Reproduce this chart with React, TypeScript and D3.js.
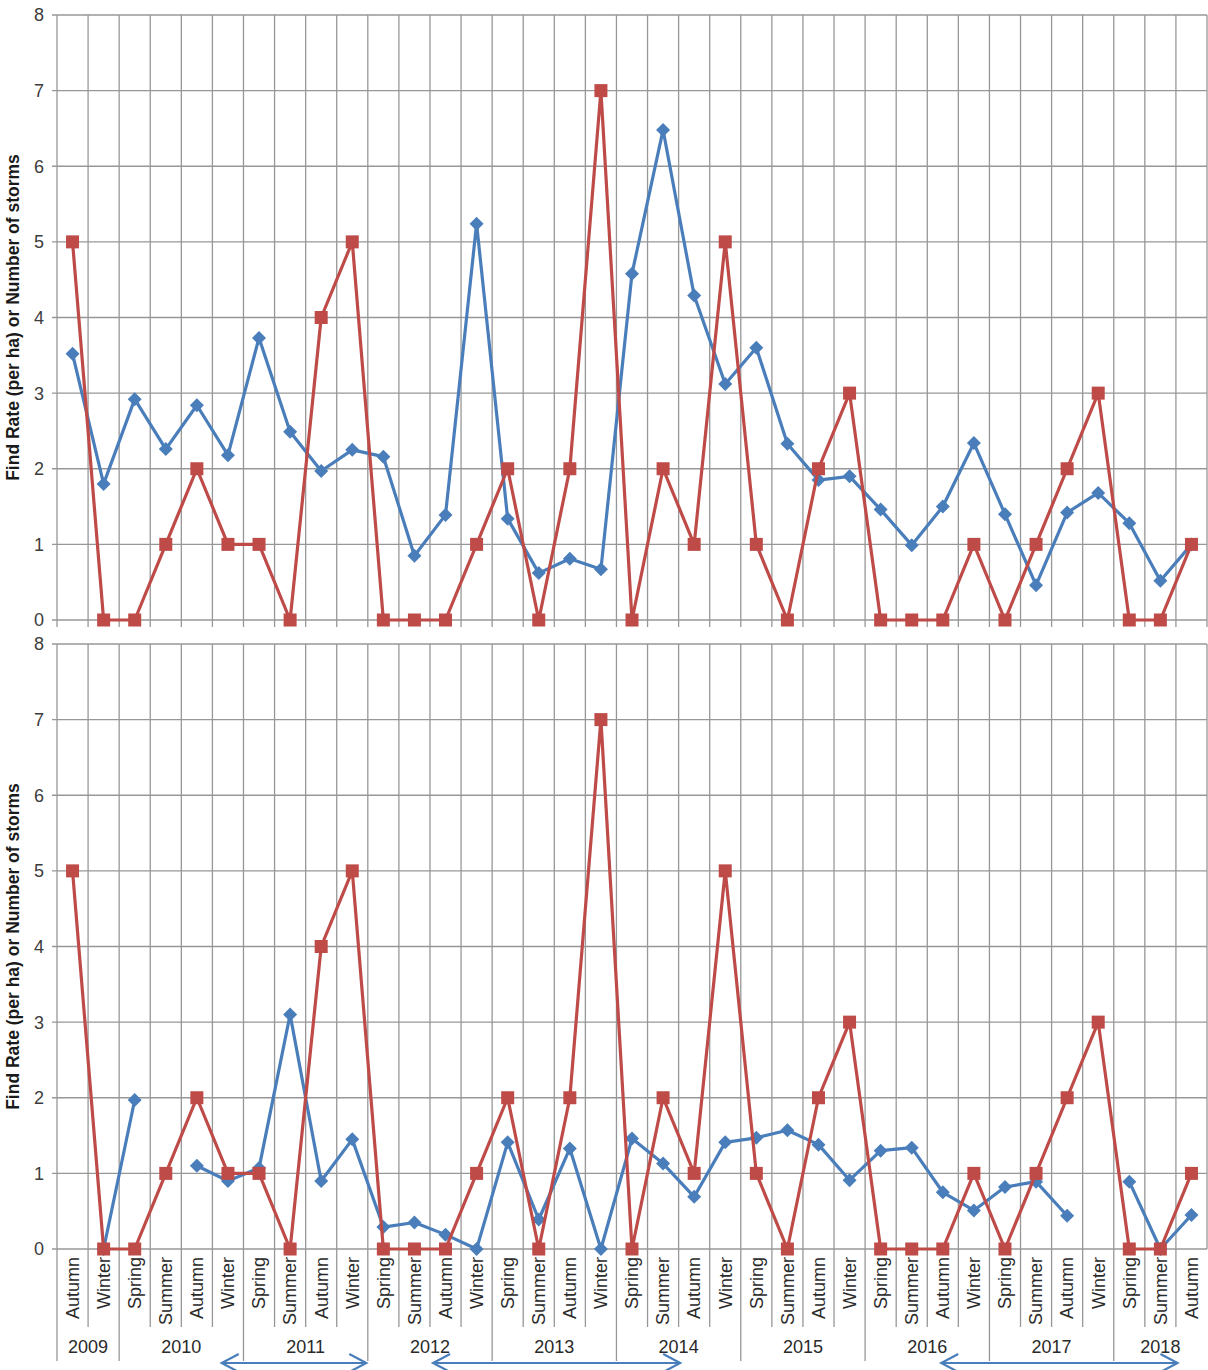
import React from "react";
import * as d3 from "d3";

// Season of each quarterly sample, Autumn 2009 .. Autumn 2018
const seasons = [
  "Autumn", "Winter",
  "Spring", "Summer", "Autumn", "Winter",
  "Spring", "Summer", "Autumn", "Winter",
  "Spring", "Summer", "Autumn", "Winter",
  "Spring", "Summer", "Autumn", "Winter",
  "Spring", "Summer", "Autumn", "Winter",
  "Spring", "Summer", "Autumn", "Winter",
  "Spring", "Summer", "Autumn", "Winter",
  "Spring", "Summer", "Autumn", "Winter",
  "Spring", "Summer", "Autumn",
];

// Year groups on the lower axis and how many seasons each spans
const years = ["2009", "2010", "2011", "2012", "2013", "2014", "2015", "2016", "2017", "2018"];
const seasonsPerYear = [2, 4, 4, 4, 4, 4, 4, 4, 4, 3];

// Number of storms per season (same in both panels)
const storms = [5, 0, 0, 1, 2, 1, 1, 0, 4, 5, 0, 0, 0, 1, 2, 0, 2, 7, 0, 2, 1, 5, 1, 0, 2, 3, 0, 0, 0, 1, 0, 1, 2, 3, 0, 0, 1];

// Find rate (per ha), upper panel
const findRateUpper = [
  3.52, 1.8, 2.92, 2.26, 2.84, 2.18, 3.73, 2.49, 1.97, 2.25, 2.16, 0.85, 1.39, 5.24, 1.34, 0.62,
  0.81, 0.67, 4.58, 6.48, 4.29, 3.12, 3.6, 2.33, 1.85, 1.9, 1.46, 0.99, 1.5, 2.34, 1.4, 0.46,
  1.42, 1.68, 1.28, 0.52, 1.0,
];

// Find rate (per ha), lower panel; null = no survey that season
const findRateLower: (number | null)[] = [
  null, 0, 1.97, null, 1.1, 0.9, 1.07, 3.1, 0.9, 1.45, 0.29, 0.35, 0.19, 0, 1.41, 0.39,
  1.33, 0, 1.46, 1.13, 0.69, 1.41, 1.47, 1.57, 1.38, 0.91, 1.3, 1.34, 0.75, 0.51, 0.82, 0.89,
  0.44, null, 0.89, 0, 0.45,
];

// Double-headed arrows under the year row, in season units from the left edge
const arrowSpans = [
  [5.3, 9.95],
  [12.1, 20.05],
  [28.45, 36.05],
];

const yTicks = [0, 1, 2, 3, 4, 5, 6, 7, 8];

const W = 1208;
const H = 1370;
const plotLeft = 57;
const plotRight = 1207;
const FONT = "'Liberation Sans', Arial, sans-serif";
const BLUE = "#4a7ebb";
const RED = "#be4b48";
const GRID = "#979797";

const x = d3
  .scaleBand<number>()
  .domain(d3.range(seasons.length))
  .range([plotLeft, plotRight])
  .paddingInner(0)
  .paddingOuter(0);
const cx = (i: number) => (x(i) as number) + x.bandwidth() / 2;
const xEdge = d3.scaleLinear().domain([0, seasons.length]).range([plotLeft, plotRight]);

const panels = [
  { key: "upper", top: 15, bottom: 620, rate: findRateUpper as (number | null)[], labels: false },
  { key: "lower", top: 644, bottom: 1249, rate: findRateLower, labels: true },
];

const diamond = "M0,-7L7,0L0,7L-7,0Z";

function Panel({ top, bottom, rate, labels }: { top: number; bottom: number; rate: (number | null)[]; labels: boolean }) {
  const y = d3.scaleLinear().domain([0, 8]).range([bottom, top]);
  const line = d3
    .line<number | null>()
    .defined((d) => d != null)
    .x((_, i) => cx(i))
    .y((d) => y(d as number));
  const stormLine = d3
    .line<number>()
    .x((_, i) => cx(i))
    .y((d) => y(d));

  const yearEdges: number[] = [0];
  seasonsPerYear.forEach((n, k) => yearEdges.push(yearEdges[k] + n));

  return (
    <g>
      {/* horizontal gridlines and left ticks */}
      {yTicks.map((t) => (
        <g key={`h${t}`}>
          <line x1={plotLeft - 5} x2={plotRight} y1={y(t)} y2={y(t)} stroke={GRID} strokeWidth={1.3} />
          <text x={44} y={y(t)} dy="0.36em" textAnchor="end" fontFamily={FONT} fontSize={18} fill="#3c3c3c">
            {t}
          </text>
        </g>
      ))}
      {/* vertical gridlines at season boundaries */}
      {d3.range(seasons.length + 1).map((k) => (
        <line
          key={`v${k}`}
          x1={xEdge(k)}
          x2={xEdge(k)}
          y1={top}
          y2={labels ? bottom : bottom + 7}
          stroke={GRID}
          strokeWidth={1.3}
        />
      ))}
      <text
        transform={`translate(19,${(top + bottom) / 2}) rotate(-90)`}
        textAnchor="middle"
        fontFamily={FONT}
        fontWeight="bold"
        fontSize={17.5}
        fill="#1a1a1a"
      >
        Find Rate (per ha) or Number of storms
      </text>

      {labels && (
        <g>
          {d3.range(seasons.length).map((k) =>
            yearEdges.includes(k) ? null : (
              <line key={`s${k}`} x1={xEdge(k)} x2={xEdge(k)} y1={bottom} y2={bottom + 78} stroke={GRID} strokeWidth={1.3} />
            )
          )}
          {yearEdges.slice(0, -1).map((k) => (
            <line key={`ye${k}`} x1={xEdge(k)} x2={xEdge(k)} y1={bottom} y2={bottom + 112} stroke={GRID} strokeWidth={1.3} />
          ))}
          {seasons.map((s, i) => (
            <text
              key={`l${i}`}
              transform={`translate(${cx(i)},${bottom + 8}) rotate(-90)`}
              dy="0.35em"
              textAnchor="end"
              fontFamily={FONT}
              fontSize={18}
              fill="#2a2a2a"
            >
              {s}
            </text>
          ))}
          {years.map((yr, k) => (
            <text
              key={`y${yr}`}
              x={(xEdge(yearEdges[k]) + xEdge(yearEdges[k + 1])) / 2}
              y={bottom + 104}
              textAnchor="middle"
              fontFamily={FONT}
              fontSize={18}
              fill="#2a2a2a"
            >
              {yr}
            </text>
          ))}
        </g>
      )}

      {/* find rate */}
      <path d={line(rate) || ""} fill="none" stroke={BLUE} strokeWidth={3.2} strokeLinejoin="round" />
      {rate.map((d, i) =>
        d == null ? null : <path key={`b${i}`} d={diamond} transform={`translate(${cx(i)},${y(d)})`} fill={BLUE} />
      )}
      {/* number of storms */}
      <path d={stormLine(storms) || ""} fill="none" stroke={RED} strokeWidth={3.2} strokeLinejoin="round" />
      {storms.map((d, i) => (
        <rect key={`r${i}`} x={cx(i) - 6.5} y={y(d) - 6.5} width={13} height={13} fill={RED} />
      ))}
    </g>
  );
}

function Arrows({ yPos }: { yPos: number }) {
  return (
    <g stroke={BLUE} strokeWidth={2.2} fill="none">
      {arrowSpans.map(([a, b], k) => {
        const x1 = xEdge(a);
        const x2 = xEdge(b);
        return (
          <g key={k}>
            <line x1={x1} x2={x2} y1={yPos} y2={yPos} />
            <polyline points={`${x1 + 17},${yPos - 9} ${x1},${yPos} ${x1 + 17},${yPos + 9}`} />
            <polyline points={`${x2 - 17},${yPos - 9} ${x2},${yPos} ${x2 - 17},${yPos + 9}`} />
          </g>
        );
      })}
    </g>
  );
}

export default function App() {
  return (
    <svg
      width={W}
      height={H}
      viewBox={`0 0 ${W} ${H}`}
      style={{ position: "absolute", left: 0, top: 0, background: "#fff" }}
    >
      <rect width={W} height={H} fill="#fff" />
      {panels.map((p) => (
        <Panel key={p.key} top={p.top} bottom={p.bottom} rate={p.rate} labels={p.labels} />
      ))}
      <Arrows yPos={1363} />
    </svg>
  );
}
